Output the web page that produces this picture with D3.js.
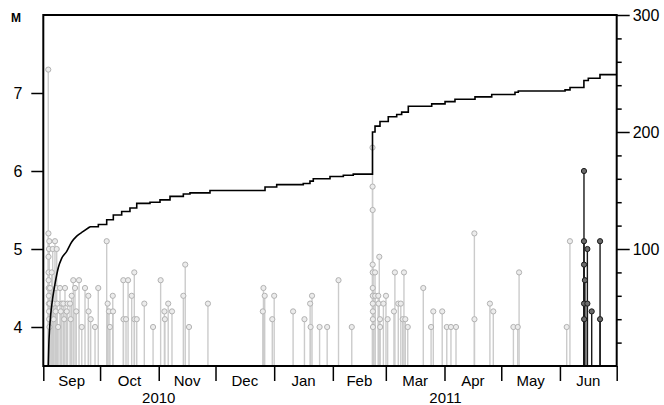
<!DOCTYPE html>
<html>
<head>
<meta charset="utf-8">
<script src="https://cdn.jsdelivr.net/npm/d3@7"></script>
<style>
  body { margin: 0; background: #fff; }
  text { font-family: 'Liberation Sans', Arial, sans-serif; fill: #000; }
</style>
</head>
<body>
<svg id="chart" width="664" height="405"></svg>
<script>
// events M>=4, [utc date hour, magnitude]
const grayQuakes = [
  ['2010-09-03 15', 7.3], ['2010-09-03 17', 5.2], ['2010-09-03 18', 4.9], ['2010-09-03 19', 4.7],
  ['2010-09-03 20', 4.6], ['2010-09-03 21', 4.5], ['2010-09-03 22', 4.4], ['2010-09-03 23', 4.3],
  ['2010-09-04 00', 5.0], ['2010-09-04 01', 4.2], ['2010-09-04 02', 4.1], ['2010-09-04 04', 5.1],
  ['2010-09-04 06', 4.0], ['2010-09-04 10', 4.3], ['2010-09-04 14', 4.5], ['2010-09-05 11', 4.7],
  ['2010-09-05 23', 5.0], ['2010-09-06 07', 4.3], ['2010-09-06 12', 4.1], ['2010-09-07 04', 5.1],
  ['2010-09-07 12', 4.2], ['2010-09-07 17', 4.5], ['2010-09-08 02', 5.0], ['2010-09-08 10', 4.3],
  ['2010-09-08 20', 4.0], ['2010-09-09 20', 4.5], ['2010-09-10 06', 4.2], ['2010-09-10 18', 4.3],
  ['2010-09-11 14', 4.3], ['2010-09-12 00', 4.1], ['2010-09-12 11', 4.5], ['2010-09-13 09', 4.2],
  ['2010-09-13 20', 4.3], ['2010-09-15 03', 4.3], ['2010-09-15 12', 4.1], ['2010-09-16 00', 4.4],
  ['2010-09-16 20', 4.6], ['2010-09-17 18', 4.5], ['2010-09-18 10', 4.2], ['2010-09-19 21', 4.6],
  ['2010-09-21 08', 4.0], ['2010-09-23 01', 4.5], ['2010-09-24 19', 4.4], ['2010-09-24 22', 4.2],
  ['2010-09-26 01', 4.1], ['2010-09-28 08', 4.0], ['2010-09-30 01', 4.5], ['2010-10-04 12', 5.1],
  ['2010-10-05 00', 4.3], ['2010-10-05 17', 4.2], ['2010-10-06 05', 4.0], ['2010-10-07 17', 4.4],
  ['2010-10-07 20', 4.2], ['2010-10-13 07', 4.6], ['2010-10-13 09', 4.1], ['2010-10-14 17', 4.1],
  ['2010-10-15 19', 4.6], ['2010-10-17 17', 4.4], ['2010-10-19 02', 4.7], ['2010-10-19 04', 4.1],
  ['2010-10-20 09', 4.1], ['2010-10-24 09', 4.3], ['2010-10-29 00', 4.0], ['2010-11-02 00', 4.6],
  ['2010-11-04 00', 4.2], ['2010-11-04 06', 4.1], ['2010-11-06 00', 4.3], ['2010-11-08 00', 4.2],
  ['2010-11-14 00', 4.4], ['2010-11-15 00', 4.8], ['2010-11-17 00', 4.0], ['2010-11-27 00', 4.3],
  ['2010-12-26 00', 4.2], ['2010-12-26 08', 4.5], ['2010-12-27 00', 4.4], ['2010-12-31 00', 4.1],
  ['2011-01-01 00', 4.4], ['2011-01-11 00', 4.2], ['2011-01-17 00', 4.1], ['2011-01-20 00', 4.3],
  ['2011-01-20 06', 4.0], ['2011-01-21 00', 4.4], ['2011-01-25 00', 4.0], ['2011-01-29 00', 4.0],
  ['2011-02-04 00', 4.6], ['2011-02-11 00', 4.0], ['2011-02-21 23', 6.3], ['2011-02-22 00', 5.8],
  ['2011-02-22 01', 5.5], ['2011-02-22 01', 4.8], ['2011-02-22 02', 4.7], ['2011-02-22 02', 4.5],
  ['2011-02-22 03', 4.4], ['2011-02-22 03', 4.3], ['2011-02-22 04', 4.2], ['2011-02-22 04', 4.1],
  ['2011-02-22 05', 4.0], ['2011-02-23 07', 4.7], ['2011-02-23 09', 4.4], ['2011-02-25 00', 4.4],
  ['2011-02-25 03', 4.3], ['2011-02-25 13', 4.9], ['2011-02-25 22', 4.1], ['2011-02-26 00', 4.0],
  ['2011-02-27 17', 4.3], ['2011-03-01 02', 4.4], ['2011-03-01 23', 4.1], ['2011-03-05 07', 4.2],
  ['2011-03-05 19', 4.7], ['2011-03-07 14', 4.3], ['2011-03-08 22', 4.3], ['2011-03-09 22', 4.1],
  ['2011-03-10 14', 4.7], ['2011-03-11 07', 4.1], ['2011-03-12 14', 4.0], ['2011-03-20 19', 4.5],
  ['2011-03-24 22', 4.0], ['2011-03-26 02', 4.2], ['2011-03-30 19', 4.2], ['2011-04-02 05', 4.0],
  ['2011-04-04 10', 4.0], ['2011-04-07 02', 4.0], ['2011-04-16 19', 5.2], ['2011-04-16 20', 4.1],
  ['2011-04-25 00', 4.3], ['2011-04-26 19', 4.2], ['2011-05-07 10', 4.0], ['2011-05-09 17', 4.0],
  ['2011-05-10 10', 4.7], ['2011-06-04 14', 4.0], ['2011-06-06 07', 5.1]
];

const blackQuakes = [
  ['2011-06-13 17', 6.0], ['2011-06-13 17', 5.1], ['2011-06-13 18', 4.8], ['2011-06-13 18', 4.3],
  ['2011-06-13 19', 4.1], ['2011-06-14 05', 4.6], ['2011-06-15 12', 5.0], ['2011-06-15 12', 4.3],
  ['2011-06-17 19', 4.2], ['2011-06-22 05', 5.1], ['2011-06-22 05', 4.1]
];

const cumDates = [
  '2010-09-03 15', '2010-09-03 22', '2010-09-04 07', '2010-09-04 22', '2010-09-05 23',
  '2010-09-07 04', '2010-09-08 22', '2010-09-10 17', '2010-09-13 09', '2010-09-16 00',
  '2010-09-18 16', '2010-09-22 03', '2010-09-25 16', '2010-09-30 02', '2010-10-04 12',
  '2010-10-08 00', '2010-10-12 10', '2010-10-16 19', '2010-10-20 09', '2010-10-27 09',
  '2010-11-01 16', '2010-11-06 23', '2010-11-14 00', '2010-11-17 12', '2010-11-28 02',
  '2010-12-27 04', '2011-01-02 08', '2011-01-16 09', '2011-01-19 22', '2011-01-21 16',
  '2011-01-30 12', '2011-02-06 13', '2011-02-11 19', '2011-02-21 23', '2011-02-23 07',
  '2011-02-25 22', '2011-03-02 07', '2011-03-06 18', '2011-03-09 09', '2011-03-12 21',
  '2011-03-25 06', '2011-04-01 07', '2011-04-06 13', '2011-04-17 03', '2011-04-25 23',
  '2011-05-08 06', '2011-05-10 00', '2011-06-03 17', '2011-06-06 08', '2011-06-13 16',
  '2011-06-16 00', '2011-06-22 04', '2011-07-01 00'
];
const cumCounts = [
  0, 18, 31, 44, 58, 70, 84, 92, 98, 106, 111, 115, 119, 121, 125, 129, 132, 135, 139, 140,
  142, 145, 147, 148, 150, 153, 155, 156, 158, 160, 162, 163, 164, 200, 205, 209, 213, 215,
  217, 222, 224, 226, 228, 230, 232, 234, 235, 236, 238, 244, 246, 249, 249
];
// the first weeks climb in many tiny steps, drawn as a smooth curve
const smoothUntil = '2010-09-25 16';

const magTicks = [4, 5, 6, 7];
const countTicks = [100, 200, 300];
const countMinorTicks = [20, 40, 60, 80, 120, 140, 160, 180, 220, 240, 260, 280];
const timeSpan = ['2010-09-01 00', '2011-07-01 00'];

const parseTime = d3.utcParse('%Y-%m-%d %H');
const box = {left: 43.3, right: 616.7, top: 15, bottom: 366};

const svg = d3.select('#chart');

const xScale = d3.scaleUtc()
  .domain(timeSpan.map(parseTime))
  .range([box.left, box.right]);
const yMag = d3.scaleLinear()
  .domain([3.5, 8])
  .range([box.bottom, box.top]);
const yCount = d3.scaleLinear()
  .domain([0, 300])
  .range([box.bottom, box.top]);

const drawStems = (data, stemColor, dotStroke, dotFill) => {
  const g = svg.append('g');
  g.selectAll('line')
    .data(data)
    .enter()
    .append('line')
    .attr('x1', d => xScale(parseTime(d[0])))
    .attr('x2', d => xScale(parseTime(d[0])))
    .attr('y1', box.bottom)
    .attr('y2', d => yMag(d[1]))
    .style('stroke', stemColor)
    .style('stroke-width', 1.4);
  g.selectAll('circle')
    .data(data)
    .enter()
    .append('circle')
    .attr('cx', d => xScale(parseTime(d[0])))
    .attr('cy', d => yMag(d[1]))
    .attr('r', 2.6)
    .style('fill', dotFill)
    .style('stroke', dotStroke)
    .style('stroke-width', 1);
};

drawStems(grayQuakes, '#cbcbcb', '#b2b2b2', '#ececec');
drawStems(blackQuakes, '#1a1a1a', '#1a1a1a', '#6a6a6a');

const cumData = d3.zip(cumDates, cumCounts);
const split = cumDates.indexOf(smoothUntil);

const lineOf = curve => d3.line()
  .x(d => xScale(parseTime(d[0])))
  .y(d => yCount(d[1]))
  .curve(curve);

svg.append('path')
  .datum(cumData.slice(0, split + 1))
  .attr('d', lineOf(d3.curveMonotoneX))
  .style('fill', 'none')
  .style('stroke', '#000')
  .style('stroke-width', 1.6);

svg.append('path')
  .datum(cumData.slice(split))
  .attr('d', lineOf(d3.curveStepAfter))
  .style('fill', 'none')
  .style('stroke', '#000')
  .style('stroke-width', 1.6);

svg.append('rect')
  .attr('x', box.left)
  .attr('y', box.top)
  .attr('width', box.right - box.left)
  .attr('height', box.bottom - box.top)
  .style('fill', 'none')
  .style('stroke', '#000')
  .style('stroke-width', 2);

const leftAxis = svg.append('g')
  .attr('transform', `translate(${box.left},0)`)
  .call(d3.axisLeft(yMag).tickValues(magTicks).tickSize(12).tickPadding(9).tickFormat(d3.format('d')));
leftAxis.select('.domain').remove();
leftAxis.selectAll('line').style('stroke-width', 1.5);
leftAxis.selectAll('text').style('font-size', '16px');

svg.append('text')
  .attr('x', 11)
  .attr('y', 22)
  .text('M')
  .style('font-size', '12px')
  .style('font-weight', 'bold');

const rightMinor = svg.append('g')
  .attr('transform', `translate(${box.right},0)`)
  .call(d3.axisRight(yCount).tickValues(countMinorTicks).tickSize(5).tickFormat(''));
rightMinor.select('.domain').remove();
rightMinor.selectAll('line').style('stroke-width', 1.5);

const rightAxis = svg.append('g')
  .attr('transform', `translate(${box.right},0)`)
  .call(d3.axisRight(yCount).tickValues(countTicks).tickSize(13).tickPadding(3));
rightAxis.select('.domain').remove();
rightAxis.selectAll('line').style('stroke-width', 1.5);
rightAxis.selectAll('text').style('font-size', '16px');

const [t0, t1] = xScale.domain();
const months = d3.utcMonth.range(t0, t1);

const bottomAxis = svg.append('g')
  .attr('transform', `translate(0,${box.bottom})`)
  .call(d3.axisBottom(xScale).tickValues(months.concat([t1])).tickSize(15).tickFormat(''));
bottomAxis.select('.domain').remove();
bottomAxis.selectAll('line').style('stroke-width', 1.5);

svg.append('g')
  .selectAll('text')
  .data(months)
  .enter()
  .append('text')
  .attr('x', d => (xScale(d) + xScale(d3.utcMonth.offset(d, 1))) / 2)
  .attr('y', 386)
  .text(d3.utcFormat('%b'))
  .style('font-size', '15px')
  .style('text-anchor', 'middle');

const years = d3.utcYear.range(d3.utcYear.floor(t0), t1);
svg.append('g')
  .selectAll('text')
  .data(years)
  .enter()
  .append('text')
  .attr('x', d => (xScale(d3.max([d, t0])) + xScale(d3.min([d3.utcYear.offset(d, 1), t1]))) / 2)
  .attr('y', 403)
  .text(d3.utcFormat('%Y'))
  .style('font-size', '15px')
  .style('text-anchor', 'middle');
</script>
</body>
</html>
